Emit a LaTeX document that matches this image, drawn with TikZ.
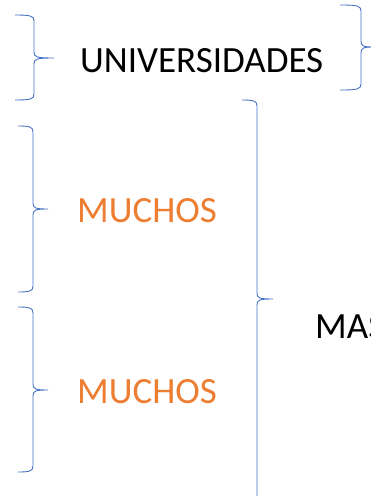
\documentclass[tikz,border=0pt]{standalone}
\usepackage{fontspec}
\setmainfont{Carlito}
\definecolor{bracecol}{HTML}{4472C4}
\definecolor{orangetxt}{HTML}{ED7D31}
\newcommand{\OfficeBrace}[6]{% xl xv xt yt ym yb
  \draw[bracecol, line width=0.9pt]
    (#1,#4) .. controls (#2-3,#4) and (#2,#4+1) .. (#2,#4+6)
    -- (#2,#5-6) .. controls (#2,#5-1) and (#2+2,#5) .. (#3,#5)
    .. controls (#2+2,#5) and (#2,#5+1) .. (#2,#5+6)
    -- (#2,#6-6) .. controls (#2,#6-1) and (#2-3,#6) .. (#1,#6);}
\begin{document}
\begin{tikzpicture}[x=1pt,y=-1pt,
  lbl/.style={inner sep=0pt, anchor=base west, font=\fontsize{37}{40}\selectfont},
  blacklbl/.style={lbl, text=black},
  orangelbl/.style={lbl, text=orangetxt}]
\useasboundingbox (0,0) rectangle (371,496);
\clip (0,0) rectangle (371,496);
\OfficeBrace{15}{34}{54}{15}{58}{100}
\OfficeBrace{18}{33}{48}{126}{209}{292}
\OfficeBrace{18}{33}{48}{307}{390}{472}
\OfficeBrace{340}{361}{374}{5}{47}{90}
\OfficeBrace{242}{257}{273}{100}{299}{520}
\node[blacklbl] (univ) at (80,72) {UNIVERSIDADES};
\node[orangelbl] (much1) at (77,222) {MUCHOS};
\node[orangelbl] (much2) at (77,403) {MUCHOS};
\node[blacklbl] (mas) at (315,338) {MAS};
\end{tikzpicture}
\end{document}
